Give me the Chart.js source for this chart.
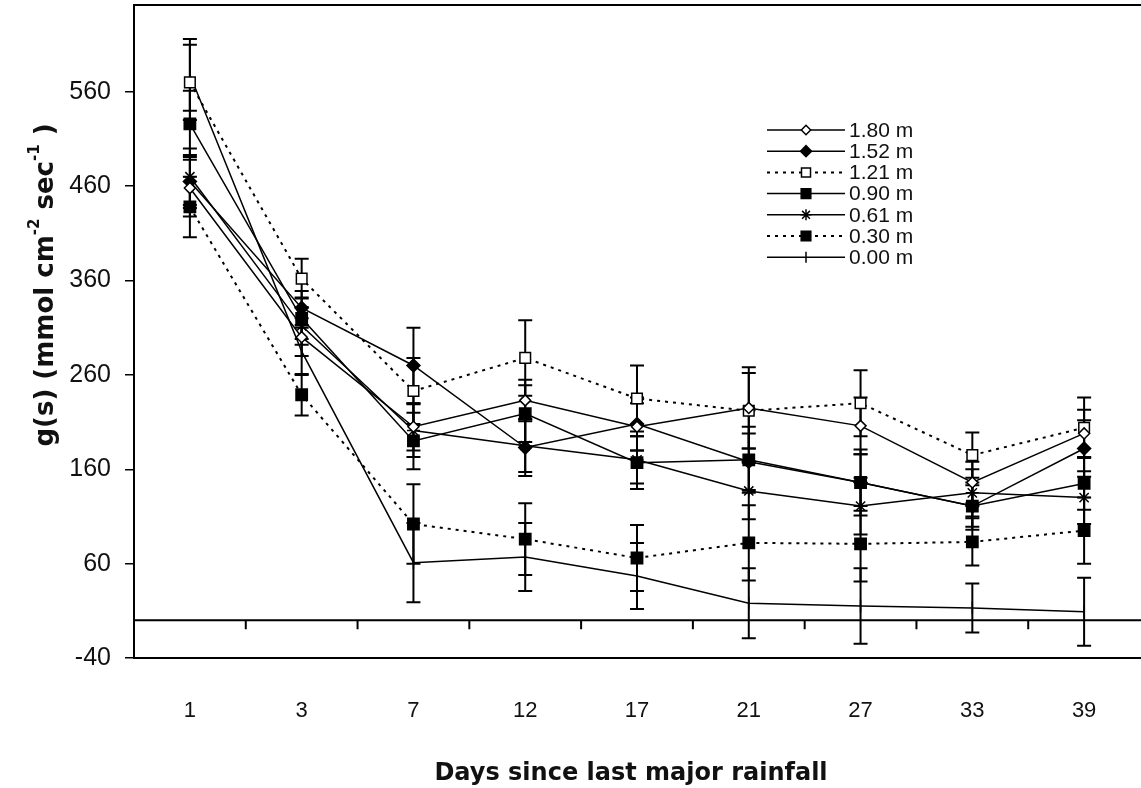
<!DOCTYPE html>
<html>
<head>
<meta charset="utf-8">
<script src="https://cdn.jsdelivr.net/npm/chart.js@4/dist/chart.umd.min.js"></script>
<style>
  html, body { margin: 0; padding: 0; background: #fff; }
  #wrap { width: 1141px; height: 788px; }
</style>
</head>
<body>
<div id="wrap"><canvas id="myChart" width="1141" height="788"></canvas></div>
<script>
// categories and tick labels
const days = ["1", "3", "7", "12", "17", "21", "27", "33", "39"];
const yTicks = [-40, 60, 160, 260, 360, 460, 560];

// g(s) means per depth
const gs180 = [458, 300, 205, 233, 205, 225, 206, 146, 198];
const gs152 = [465, 331, 270, 183, 208, 168, 146, 121, 182];
const gs121 = [570, 362, 243, 278, 235, 222, 230, 175, 204];
const gs090 = [526, 320, 190, 219, 167, 170, 146, 121, 145];
const gs061 = [470, 312, 201, 185, 170, 137, 121, 135, 130];
const gs030 = [438, 239, 102, 86, 66, 82, 81, 83, 95];
const gs000 = [578, 285, 61, 67, 47, 18, 15, 13, 9];

// error bar half-lengths
const err180 = [30, 20, 25, 22, 25, 43, 30, 22, 25];
const err152 = [28, 18, 40, 30, 28, 30, 35, 25, 30];
const err121 = [40, 21, 35, 40, 35, 40, 35, 24, 32];
const err090 = [35, 22, 30, 30, 28, 35, 30, 22, 28];
const err061 = [30, 20, 28, 28, 25, 30, 30, 25, 28];
const err030 = [32, 22, 42, 38, 35, 40, 40, 25, 35];
const err000 = [38, 25, 42, 36, 35, 37, 40, 26, 36];

const FONT = "'Liberation Sans', Arial, sans-serif";
const TITLE_FONT = "'DejaVu Sans', Verdana, sans-serif";

function series(label, data, err, style, fill, radius, dashed, rotation) {
  return {
    label: label,
    data: data,
    err: err,
    borderColor: "#000",
    borderWidth: dashed ? 2 : 1.5,
    borderDash: dashed ? [3, 5] : [],
    pointStyle: style,
    pointRadius: radius,
    pointRotation: rotation || 0,
    pointBackgroundColor: fill,
    pointBorderColor: "#000",
    pointBorderWidth: 1.5,
    tension: 0,
  };
}

// error bars under the lines
const errorBars = {
  id: "errorBars",
  beforeDatasetsDraw(chart) {
    const ctx = chart.ctx;
    const y = chart.scales.y;
    ctx.save();
    ctx.strokeStyle = "#000";
    ctx.lineWidth = 2;
    chart.data.datasets.forEach((ds, di) => {
      const meta = chart.getDatasetMeta(di);
      meta.data.forEach((pt, i) => {
        const top = y.getPixelForValue(ds.data[i] + ds.err[i]);
        const bot = y.getPixelForValue(ds.data[i] - ds.err[i]);
        ctx.beginPath();
        ctx.moveTo(pt.x, top); ctx.lineTo(pt.x, bot);
        ctx.moveTo(pt.x - 7, top); ctx.lineTo(pt.x + 7, top);
        ctx.moveTo(pt.x - 7, bot); ctx.lineTo(pt.x + 7, bot);
        ctx.stroke();
      });
    });
    ctx.restore();
  }
};

// zero line with tick marks, top frame, titles and legend
const decorations = {
  id: "decorations",
  beforeDatasetsDraw(chart) {
    const ctx = chart.ctx;
    const a = chart.chartArea;
    const x = chart.scales.x;
    const y0 = chart.scales.y.getPixelForValue(0);
    ctx.save();
    ctx.strokeStyle = "#000";
    ctx.lineWidth = 2;
    ctx.beginPath();
    ctx.moveTo(a.left, y0); ctx.lineTo(a.right + 1, y0);
    for (let i = 1; i < days.length; i++) {
      const bx = (x.getPixelForValue(i - 1) + x.getPixelForValue(i)) / 2;
      ctx.moveTo(bx, y0); ctx.lineTo(bx, y0 + 9);
    }
    ctx.moveTo(a.left, a.top); ctx.lineTo(a.right + 1, a.top);
    ctx.stroke();
    ctx.restore();
  },
  afterDraw(chart) {
    const ctx = chart.ctx;
    const a = chart.chartArea;
    ctx.save();
    ctx.fillStyle = "#111";

    // x title
    ctx.font = "bold 24px " + TITLE_FONT;
    ctx.textAlign = "center";
    ctx.textBaseline = "middle";
    ctx.fillText("Days since last major rainfall", (a.left + a.right) / 2 - 6, a.bottom + 116);

    // y title with superscripts
    const parts = [
      ["g(s) (mmol cm", false], ["-2", true], [" sec", false], ["-1", true], [" )", false]
    ];
    const big = "bold 26px " + TITLE_FONT, small = "bold 15px " + TITLE_FONT;
    let total = 0;
    parts.forEach(p => { ctx.font = p[1] ? small : big; total += ctx.measureText(p[0]).width; });
    ctx.translate(46, a.top + 280);
    ctx.rotate(-Math.PI / 2);
    ctx.textAlign = "left";
    ctx.textBaseline = "middle";
    let cx = -total / 2;
    parts.forEach(p => {
      ctx.font = p[1] ? small : big;
      ctx.fillText(p[0], cx, p[1] ? -11 : 0);
      cx += ctx.measureText(p[0]).width;
    });
    ctx.setTransform(1, 0, 0, 1, 0, 0);

    // legend
    const lx0 = a.left + 633, lx1 = a.left + 711, tx = a.left + 715;
    chart.data.datasets.forEach((ds, i) => {
      const ly = a.top + 125 + i * 21.2;
      ctx.strokeStyle = "#000";
      ctx.lineWidth = ds.borderWidth;
      ctx.setLineDash(ds.borderDash);
      ctx.beginPath();
      ctx.moveTo(lx0, ly); ctx.lineTo(lx1, ly);
      ctx.stroke();
      ctx.setLineDash([]);
      ctx.fillStyle = ds.pointBackgroundColor;
      ctx.lineWidth = 1.5;
      Chart.helpers.drawPoint(ctx, {
        pointStyle: ds.pointStyle,
        radius: ds.pointRadius * 0.85,
        rotation: ds.pointRotation,
        borderWidth: 1.5
      }, (lx0 + lx1) / 2, ly);
      ctx.fillStyle = "#111";
      ctx.font = "21px " + FONT;
      ctx.textAlign = "left";
      ctx.textBaseline = "middle";
      ctx.fillText(ds.label, tx, ly + 1);
    });
    ctx.restore();
  }
};

const chartInstance = new Chart(document.getElementById("myChart").getContext("2d"), {
  type: "line",
  data: {
    labels: days,
    datasets: [
      series("1.80 m", gs180, err180, "rectRot", "#fff", 5.5, false),
      series("1.52 m", gs152, err152, "rectRot", "#000", 6.5, false),
      series("1.21 m", gs121, err121, "rect", "#fff", 7.5, true),
      series("0.90 m", gs090, err090, "rect", "#000", 8, false),
      series("0.61 m", gs061, err061, "star", "#fff", 6.5, false),
      series("0.30 m", gs030, err030, "rect", "#000", 8, true),
      series("0.00 m", gs000, err000, "line", "#fff", 6.5, false, 90),
    ],
  },
  options: {
    responsive: false,
    animation: false,
    layout: { autoPadding: false, padding: { top: 5, left: 0, right: 1, bottom: 0 } },
    plugins: { legend: { display: false }, tooltip: { enabled: false } },
    scales: {
      x: {
        offset: true,
        grid: { display: false, drawTicks: false },
        border: { color: "#000", width: 2 },
        ticks: { color: "#111", font: { size: 22, family: FONT }, padding: 40 },
        afterFit: (s) => { s.height = 130; s.paddingLeft = 0; s.paddingRight = 0; },
      },
      y: {
        min: -40,
        max: 652,
        afterBuildTicks: (s) => { s.ticks = yTicks.map(v => ({ value: v })); },
        grid: { drawOnChartArea: false, tickLength: 9, color: "#000", lineWidth: 1.5 },
        border: { color: "#000", width: 2 },
        ticks: { color: "#111", font: { size: 25, family: FONT }, padding: 14 },
        afterFit: (s) => { s.width = 134; s.paddingTop = 0; s.paddingBottom = 0; },
      },
    },
  },
  plugins: [errorBars, decorations],
});
</script>
</body>
</html>
